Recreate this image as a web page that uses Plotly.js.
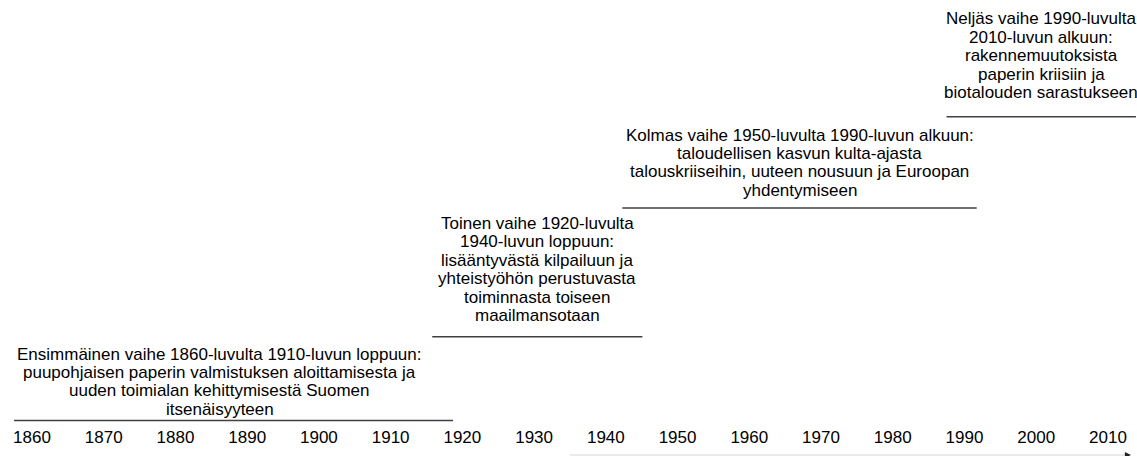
<!DOCTYPE html>
<html>
<head>
<meta charset="utf-8">
<script src="https://cdn.plot.ly/plotly-3.0.1.min.js"></script>
<style>html,body{margin:0;padding:0;background:#fff}#chart{width:1137px;height:456px}</style>
</head>
<body>
<div id="chart"></div>
<script>
// ---- data ----
const tickYears = [1860,1870,1880,1890,1900,1910,1920,1930,1940,1950,1960,1970,1980,1990,2000,2010];
const tickLabels = ["1860","1870","1880","1890","1900","1910","1920","1930","1940","1950","1960","1970","1980","1990","2000","2010"];
const phaseStart = [1857.5, 1915.8, 1942.3, 1987.5];
const phaseEnd   = [1918.7, 1945.1, 1991.7, 2013.9];
const phaseLabels = [
  "Ensimmäinen vaihe 1860-luvulta 1910-luvun loppuun:<br>puupohjaisen paperin valmistuksen aloittamisesta ja<br>uuden toimialan kehittymisestä Suomen<br>itsenäisyyteen",
  "Toinen vaihe 1920-luvulta<br>1940-luvun loppuun:<br>lisääntyvästä kilpailuun ja<br>yhteistyöhön perustuvasta<br>toiminnasta toiseen<br>maailmansotaan",
  "Kolmas vaihe 1950-luvulta 1990-luvun alkuun:<br>taloudellisen kasvun kulta-ajasta<br>talouskriiseihin, uuteen nousuun ja Euroopan<br>yhdentymiseen",
  "Neljäs vaihe 1990-luvulta<br>2010-luvun alkuun:<br>rakennemuutoksista<br>paperin kriisiin ja<br>biotalouden sarastukseen"
];
const arrowStart = 1935;
const arrowEnd = 2013.2;

// ---- layout config (positions/styles) ----
const W = 1137, H = 456, B = 31;
const plotH = H - B;
const levels = [420.5, 336.7, 208, 116.7];   // line rows, px from top
const textTop = [354, 223.5, 135, 18.8];     // first text line centre, px from top
const lineGap = 18.4;
const textXShift = [-14, 0, 0, 0];
const FONT = "Liberation Sans, Arial, sans-serif";

const traces = phaseStart.map((s, i) => ({
  x: [s, phaseEnd[i]],
  y: [levels[i], levels[i]],
  mode: "lines",
  line: {color: "#404040", width: 1.6},
  hoverinfo: "skip",
  showlegend: false
}));

const annotations = [];
phaseLabels.forEach((t, i) => {
  t.split("<br>").forEach((ln, k) => {
    annotations.push({
      x: (phaseStart[i] + phaseEnd[i]) / 2,
      y: textTop[i] + k * lineGap,
      xref: "x", yref: "y",
      text: ln,
      showarrow: false,
      xanchor: "center", yanchor: "middle",
      xshift: textXShift[i],
      align: "center",
      font: {family: FONT, size: 17, color: "#000"}
    });
  });
});

const arrowY = (plotH - 455) / plotH;
annotations.push({
  x: arrowEnd, y: arrowY, xref: "x", yref: "paper",
  ax: arrowEnd - 0.6, ay: arrowY, axref: "x", ayref: "paper",
  showarrow: true, arrowhead: 2, arrowsize: 1, arrowwidth: 1.2,
  arrowcolor: "#222", text: ""
});

const layout = {
  width: W, height: H,
  margin: {l: 0, r: 0, t: 0, b: B},
  paper_bgcolor: "#fff", plot_bgcolor: "#fff",
  showlegend: false,
  xaxis: {
    range: [1855.54, 1855.54 + W / 7.173],
    tickvals: tickYears, ticktext: tickLabels,
    showgrid: false, zeroline: false, showline: false, ticks: "",
    tickfont: {family: FONT, size: 17, color: "#000"},
    fixedrange: true
  },
  yaxis: {
    range: [plotH, 0], visible: false, showgrid: false, zeroline: false, fixedrange: true
  },
  shapes: [{
    type: "line", xref: "x", yref: "paper",
    x0: arrowStart, x1: arrowEnd - 0.3, y0: arrowY, y1: arrowY,
    line: {color: "#e3e3e3", width: 1.5}
  }],
  annotations: annotations
};

Plotly.newPlot("chart", traces, layout, {staticPlot: true, displayModeBar: false});
</script>
</body>
</html>
